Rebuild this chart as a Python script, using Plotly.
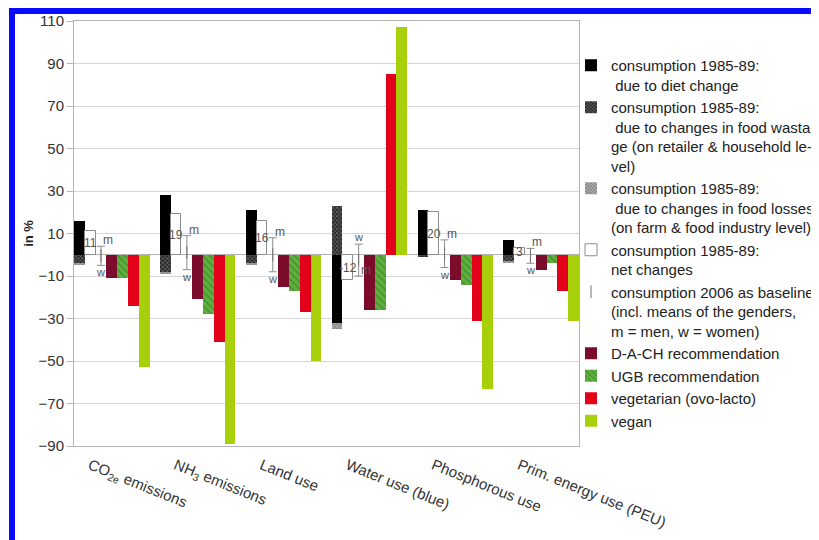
import plotly.graph_objects as go

# ---------------- data ----------------
categories = ["CO<sub>2e</sub> emissions", "NH<sub>3</sub> emissions", "Land use",
              "Water use (blue)", "Phosphorous use", "Prim. energy use (PEU)"]
diet = [16, 28, 21, -32, 21, 7]
wastage = [-4, -8, -4, 23, -1, -3]
losses = [-1, -1, -1, -3, 0, -1]
net = [11, 19, 16, -12, 20, 3]
base_m = [4, 9, 8, -10, 7, 3]
base_w = [-5, -7, -8, 5, -6, -4]
dach = [-11, -21, -15, -26, -12, -7]
ugb = [-11, -28, -17, -26, -14, -4]
veg = [-24, -41, -27, 85, -31, -17]
vegan = [-53, -89, -50, 107, -63, -31]
y_ticks = [110, 90, 70, 50, 30, 10, -10, -30, -50, -70, -90]

names = [
    "consumption 1985-89:<br>\u00a0due to diet change",
    "consumption 1985-89:<br>\u00a0due to changes in food wasta-<br>ge (on retailer &amp; household le-<br>vel)",
    "consumption 1985-89:<br>\u00a0due to changes in food losses<br>(on farm &amp; food industry level)",
    "consumption 1985-89:<br>net changes",
    "consumption 2006 as baseline<br>(incl. means of the genders,<br>m = men, w = women)",
    "D-A-CH recommendation",
    "UGB recommendation",
    "vegetarian (ovo-lacto)",
    "vegan",
]

# ---------------- layout constants ----------------
FW, FH = 819, 540
OFF = 8                       # page body margin
ML, MT = 74 - OFF, 21 - OFF   # plot area left / top (screen px minus page offset)
PW, PH = 505, 425
MR, MB = FW - ML - PW, FH - MT - PH
W = 0.1256  # slot width in category units
idx = list(range(len(categories)))


def xs(j):
    return [i + (j - 3) * W for i in idx]


def px2x(px):  # screen px -> paper x
    return (px - OFF - ML) / PW


def py2y(py):  # screen px -> paper y
    return (MT + PH - (py - OFF)) / PH


FONT = "Liberation Sans, Arial, sans-serif"
GRAY = "#8c8c8c"

fig = go.Figure()
fig.add_bar(x=xs(0), y=diet, width=W, name=names[0],
            marker=dict(color="#000000", line=dict(width=0)))
fig.add_bar(x=xs(0), y=wastage, width=W, name=names[1],
            marker=dict(color="#2a2a2a", line=dict(width=0),
                        pattern=dict(shape="x", fgcolor="#bdbdbd", bgcolor="#2a2a2a",
                                     size=3, solidity=0.4)))
fig.add_bar(x=xs(0), y=losses, width=W, name=names[2],
            marker=dict(color="#8a8a8a", line=dict(width=0),
                        pattern=dict(shape="x", fgcolor="#eeeeee", bgcolor="#8a8a8a",
                                     size=3, solidity=0.4)))
fig.add_bar(x=xs(1), y=net, width=W, name=names[3],
            marker=dict(color="#ffffff", line=dict(color=GRAY, width=1)))

mid = [(m + w) / 2 for m, w in zip(base_m, base_w)]
hi = [max(m, w) - c for m, w, c in zip(base_m, base_w, mid)]
lo = [c - min(m, w) for m, w, c in zip(base_m, base_w, mid)]
fig.add_scatter(x=xs(2), y=mid, mode="markers", name=names[4],
                marker=dict(symbol="line-ns-open", size=9, color="#707070",
                            line=dict(color="#707070", width=1)),
                error_y=dict(type="data", symmetric=False, array=hi, arrayminus=lo,
                             color=GRAY, thickness=1, width=4))

fig.add_bar(x=xs(3), y=dach, width=W, name=names[5],
            marker=dict(color="#7b0c2c", line=dict(width=0)))
fig.add_bar(x=xs(4), y=ugb, width=W, name=names[6],
            marker=dict(color="#58a83a", line=dict(width=0),
                        pattern=dict(shape="\\", fgcolor="#2e7a1e", bgcolor="#5fb040",
                                     size=5, solidity=0.35)))
fig.add_bar(x=xs(5), y=veg, width=W, name=names[7],
            marker=dict(color="#e2001a", line=dict(width=0)))
fig.add_bar(x=xs(6), y=vegan, width=W, name=names[8],
            marker=dict(color="#a8d00a", line=dict(width=0)))

# value labels of net changes
for x, v in zip(xs(1), net):
    fig.add_annotation(x=x, y=v / 2, text=str(v), showarrow=False,
                       font=dict(size=12, color="#555555", family=FONT))
# m / w labels of baseline
for x, m, w in zip(xs(2), base_m, base_w):
    fig.add_annotation(x=x, y=m, text="m", showarrow=False, xanchor="left", xshift=0,
                       yshift=6, font=dict(size=12, color="#555555", family=FONT))
    fig.add_annotation(x=x, y=w, text="w", showarrow=False,
                       yshift=(-7 if w < m else 7), font=dict(size=11, color="#555555", family=FONT))

# blue frame
BLUE = "#0a0aff"
fig.add_shape(type="rect", xref="paper", yref="paper", layer="above",
              x0=px2x(9), x1=px2x(15), y0=py2y(570), y1=py2y(8),
              fillcolor=BLUE, line=dict(width=0))
fig.add_shape(type="rect", xref="paper", yref="paper", layer="above",
              x0=px2x(9), x1=px2x(850), y0=py2y(14), y1=py2y(8),
              fillcolor=BLUE, line=dict(width=0))

fig.update_layout(
    width=FW, height=FH,
    margin=dict(l=ML, r=MR, t=MT, b=MB, autoexpand=False),
    paper_bgcolor="white", plot_bgcolor="white",
    barmode="relative", bargap=0,
    font=dict(family=FONT, size=15, color="#333333"),
    showlegend=True,
    legend=dict(x=px2x(571), y=py2y(49), xanchor="left", yanchor="top",
                traceorder="normal", valign="top", itemwidth=30,
                font=dict(size=15, color="#222222", family=FONT),
                bgcolor="rgba(0,0,0,0)", tracegroupgap=0),
    xaxis=dict(range=[-3.5 * W, idx[-1] + 3.5 * W], tickmode="array", tickvals=idx,
               ticktext=categories, tickangle=22, showgrid=False, zeroline=False,
               showline=True, linecolor="#b3b3b3", linewidth=1, mirror=True, ticks="",
               ticklabelshift=-22, ticklabelstandoff=4,
               tickfont=dict(size=15, color="#333333", family=FONT)),
    yaxis=dict(range=[-90, 110], tickmode="array", tickvals=y_ticks,
               showgrid=True, gridcolor="#d6d6d6", gridwidth=1,
               zeroline=True, zerolinecolor="#b3b3b3", zerolinewidth=1,
               showline=True, linecolor="#b3b3b3", linewidth=1, mirror=True,
               ticks="outside", ticklen=6, tickcolor="#b3b3b3",
               tickfont=dict(size=15, color="#333333", family=FONT),
               title=dict(text="<b>in %</b>", font=dict(size=13, color="#222222", family=FONT),
                          standoff=1)),
)

fig.write_html("out.html")
